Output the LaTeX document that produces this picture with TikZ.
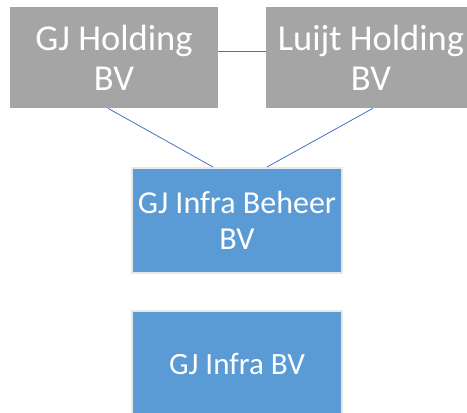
\documentclass[tikz,border=0pt]{standalone}
\usepackage{fontspec}
\setmainfont{Carlito}
\usepackage{xcolor}
\usetikzlibrary{arrows}
\definecolor{holdgray}{HTML}{A5A5A5}
\definecolor{infrablue}{HTML}{5B9BD5}
\definecolor{linkblue}{HTML}{4472C4}

\begin{document}
\begin{tikzpicture}[x=1pt,y=1pt,semithick,node distance=257pt]
\tikzstyle{holding}=[fill=holdgray,draw=none,text=white,align=center,inner sep=0pt,
  minimum width=208pt,minimum height=101pt,font=\fontsize{36.5}{40}\selectfont]
\tikzstyle{infra}=[fill=infrablue,draw=black!9,line width=2pt,text=white,align=center,inner sep=0pt,
  minimum width=210pt,minimum height=105pt,font=\fontsize{32}{36}\selectfont]
\tikzstyle{link}=[draw=linkblue,color=linkblue,line width=0.8pt]
\useasboundingbox (0,0) rectangle (467,413);
\node[holding]       (GJH)                 at (114,355.5) {GJ Holding\\BV};
\node[holding,minimum width=210pt] (LH) [right of=GJH] {Luijt Holding\\BV};
\node[infra]         (GIB)                 at (237,192.5) {GJ Infra Beheer\\BV};
\node[infra,font=\fontsize{31}{36}\selectfont] (GI) at (237,49.5) {GJ Infra BV};

\draw[link] ([yshift=6pt]GJH.east) -- ([yshift=6pt]LH.west);
\path[link]
([xshift=-6pt]GJH.south) edge ([xshift=-24pt]GIB.north)
([xshift=2pt]LH.south) edge ([xshift=30pt]GIB.north);
\end{tikzpicture}
\end{document}
